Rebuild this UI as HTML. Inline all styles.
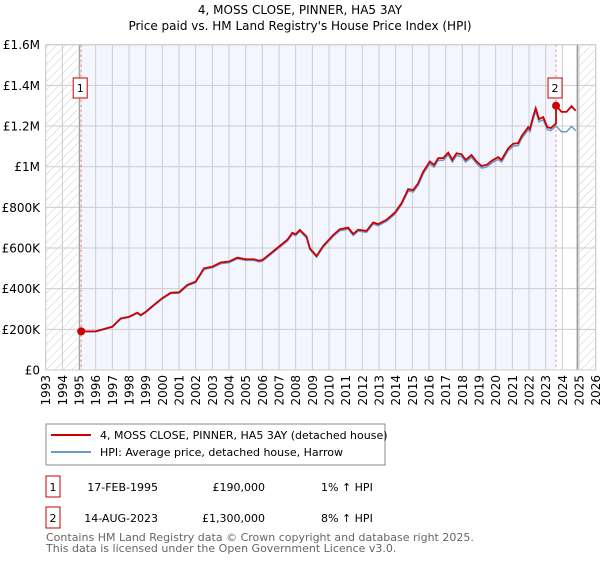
<!DOCTYPE html>
<html><head><meta charset="utf-8"><style>
body{margin:0;background:#fff;width:600px;height:560px;overflow:hidden;font-family:"DejaVu Sans","Liberation Sans",sans-serif;}
svg text{font-family:"DejaVu Sans","Liberation Sans",sans-serif;}
</style></head><body>
<svg id="c" width="600" height="560" xmlns="http://www.w3.org/2000/svg">
<defs><pattern id="hatch" width="6" height="6" patternUnits="userSpaceOnUse" patternTransform="rotate(45)"><rect width="6" height="6" fill="#fff"/><line x1="0" y1="0" x2="0" y2="6" stroke="#ccc" stroke-width="1"/></pattern></defs>
<text x="300" y="14" text-anchor="middle" font-size="12">4, MOSS CLOSE, PINNER, HA5 3AY</text>
<text x="300" y="30" text-anchor="middle" font-size="12">Price paid vs. HM Land Registry's House Price Index (HPI)</text>
<g id="plot"></g>
<g>
<rect x="46" y="424" width="339" height="41" fill="#fff" stroke="#888"/>
<line x1="51" y1="435" x2="91" y2="435" stroke="#cc0000" stroke-width="2"/>
<text x="100" y="439" font-size="11">4, MOSS CLOSE, PINNER, HA5 3AY (detached house)</text>
<line x1="51" y1="452" x2="91" y2="452" stroke="#6699cc" stroke-width="2"/>
<text x="100" y="456" font-size="11">HPI: Average price, detached house, Harrow</text>
</g>
<g font-size="11">
<rect x="46" y="476" width="14" height="21" fill="#fff" stroke="#cc0000"/>
<text x="53" y="491" text-anchor="middle">1</text>
<text x="158" y="491" text-anchor="end">17-FEB-1995</text>
<text x="265" y="491" text-anchor="end">£190,000</text>
<text x="321" y="491">1% ↑ HPI</text>
<rect x="46" y="507" width="14" height="21" fill="#fff" stroke="#cc0000"/>
<text x="53" y="522" text-anchor="middle">2</text>
<text x="158" y="522" text-anchor="end">14-AUG-2023</text>
<text x="265" y="522" text-anchor="end">£1,300,000</text>
<text x="321" y="522">8% ↑ HPI</text>
</g>
<text x="46" y="541" font-size="11" fill="#666">Contains HM Land Registry data © Crown copyright and database right 2025.</text>
<text x="46" y="552" font-size="11" fill="#666">This data is licensed under the Open Government Licence v3.0.</text>
</svg>
<script>
const hpiYears=[1995.13,1996,1997,1997.5,1998,1998.5,1998.7,1999,1999.5,2000,2000.5,2001,2001.5,2002,2002.5,2003,2003.5,2004,2004.5,2005,2005.5,2005.8,2006,2006.5,2007,2007.5,2007.8,2008,2008.25,2008.65,2008.85,2009.25,2009.65,2010.25,2010.65,2011.15,2011.45,2011.75,2012.25,2012.65,2012.95,2013.45,2013.95,2014.35,2014.75,2015.05,2015.35,2015.65,2016.05,2016.3,2016.55,2016.85,2017.15,2017.4,2017.65,2017.95,2018.2,2018.55,2018.85,2019.15,2019.45,2019.8,2020.15,2020.35,2020.75,2021.05,2021.35,2021.55,2021.95,2022.05,2022.25,2022.4,2022.6,2022.85,2023.1,2023.3,2023.62,2023.95,2024.25,2024.55,2024.8];
const hpiValues=[188000,188000,211000,251000,259000,279000,267000,283000,317000,350000,376000,378000,414000,430000,495000,503000,523000,528000,547000,539000,539000,532000,535000,568000,601000,634000,668000,661000,682000,650000,592000,555000,604000,657000,685000,693000,662000,683000,677000,718000,710000,731000,766000,812000,880000,876000,909000,965000,1015000,998000,1031000,1031000,1058000,1023000,1055000,1050000,1023000,1046000,1015000,993000,998000,1020000,1036000,1023000,1079000,1101000,1104000,1137000,1182000,1172000,1234000,1274000,1221000,1231000,1182000,1177000,1200000,1172000,1172000,1198000,1177000];
const saleYears=[1995.13,2023.62];
const salePrices=[190000,1300000];
const yTicks=[0,200000,400000,600000,800000,1000000,1200000,1400000,1600000];
const yTickLabels=["£0","£200K","£400K","£600K","£800K","£1M","£1.2M","£1.4M","£1.6M"];
const xTickYears=[1993,1994,1995,1996,1997,1998,1999,2000,2001,2002,2003,2004,2005,2006,2007,2008,2009,2010,2011,2012,2013,2014,2015,2016,2017,2018,2019,2020,2021,2022,2023,2024,2025,2026];

const X0=45.7,X1=595.7,Y0=370,Y1=44.7,xMin=1993,xMax=2026,yMax=1600000,dataEnd=2024.9;
const x=v=>X0+(v-xMin)/(xMax-xMin)*(X1-X0);
const y=v=>Y0-v/yMax*(Y0-Y1);
const NS="http://www.w3.org/2000/svg";
const g=document.getElementById('plot');
function mk(tag,attrs){const e=document.createElementNS(NS,tag);for(const k in attrs)e.setAttribute(k,attrs[k]);g.appendChild(e);return e;}
let e;
e=mk('rect',{x:x(saleYears[0]),y:Y1,width:x(saleYears[1])-x(saleYears[0]),height:Y0-Y1,fill:'#f3f6fe'});


e=mk('rect',{x:X0,y:Y1,width:x(saleYears[0])-X0,height:Y0-Y1,fill:'url(#hatch)'});


e=mk('rect',{x:x(dataEnd),y:Y1,width:X1-x(dataEnd),height:Y0-Y1,fill:'url(#hatch)'});


xTickYears.forEach(t=>{
  e=mk('line',{x1:x(t),x2:x(t),y1:Y1,y2:Y0,stroke:'#ccc','stroke-width':1});
  
  
  e=mk('text',{x:0,y:0,'font-size':12,'text-anchor':'end',transform:`translate(${x(t)+4.5},${Y0+5}) rotate(-90)`});
  e.textContent=t;
  
  
});
yTicks.forEach((t,i)=>{
  e=mk('line',{x1:X0,x2:X1,y1:y(t),y2:y(t),stroke:'#ccc','stroke-width':1});
  
  
  e=mk('text',{x:40,y:y(t)+4.5,'font-size':12,'text-anchor':'end'});
  e.textContent=yTickLabels[i];
  
  
});
e=mk('line',{x1:x(saleYears[0])-1.5,x2:x(saleYears[0])-1.5,y1:Y1,y2:Y0,stroke:'#999','stroke-width':1});


e=mk('line',{x1:x(dataEnd),x2:x(dataEnd),y1:Y1,y2:Y0,stroke:'#999','stroke-width':1.5});


saleYears.forEach((s,i)=>{
  e=mk('line',{x1:x(s),x2:x(s),y1:Y1,y2:Y0,stroke:'#ff7777','stroke-width':1,'stroke-dasharray':'2,3'});
  
  
});
// HPI line
e=mk('polyline',{points:hpiYears.map((t,i)=>x(t)+','+y(hpiValues[i])).join(' '),fill:'none',stroke:'#6699cc','stroke-width':1.5});


// property line: HPI indexed from last sale
function hpiAt(t){for(let i=0;i<hpiYears.length-1;i++){if(t<=hpiYears[i+1]){const f=(t-hpiYears[i])/(hpiYears[i+1]-hpiYears[i]);return hpiValues[i]+f*(hpiValues[i+1]-hpiValues[i]);}}return hpiValues[hpiValues.length-1];}
const pts=[];
hpiYears.forEach((t,i)=>{
  let k=0;for(let j=0;j<saleYears.length;j++)if(t>=saleYears[j])k=j;
  if(t>=saleYears[1]&&hpiYears[i-1]<saleYears[1]){pts.push([x(saleYears[1]),y(hpiAt(saleYears[1])*salePrices[0]/hpiAt(saleYears[0]))]);}
  pts.push([x(t),y(hpiValues[i]*salePrices[k]/hpiAt(saleYears[k]))]);
});
e=mk('polyline',{points:pts.map(p=>p.join(',')).join(' '),fill:'none',stroke:'#cc0000','stroke-width':1.8});


saleYears.forEach((s,i)=>{
  e=mk('circle',{cx:x(s),cy:y(salePrices[i]),r:4,fill:'#cc0000'});
  
  
  e=mk('rect',{x:x(s)-8,y:78,width:14,height:20,fill:'#fff',stroke:'#cc0000'});
  
  
  e=mk('text',{x:x(s)-1,y:92,'font-size':11,'text-anchor':'middle'});
  e.textContent=String(i+1);
  
  
});
e=mk('rect',{x:X0,y:Y1,width:X1-X0,height:Y0-Y1,fill:'none',stroke:'#ccc'});


</script>
</body></html>
